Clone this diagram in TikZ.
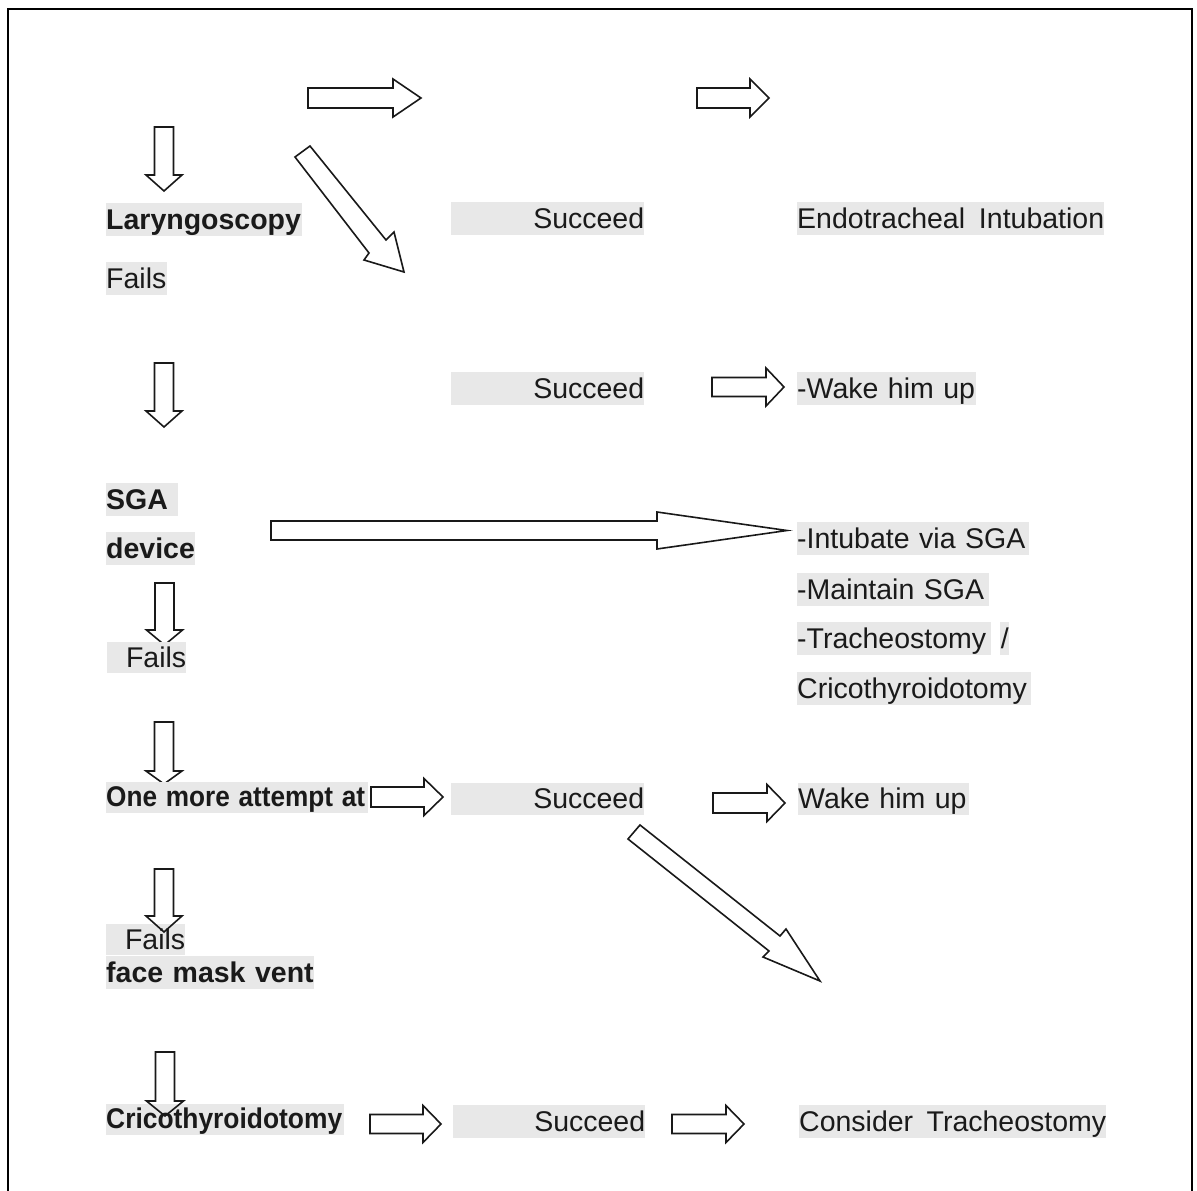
\documentclass[tikz,border=0pt]{standalone}
\usepackage{fontspec}
\setmainfont{Liberation Sans}
\definecolor{boxgray}{HTML}{E8E8E8}
\definecolor{txt}{HTML}{1A1A1A}
\newcommand\fszA{\fontsize{28.5}{34}\selectfont}
% horizontal block arrow: x0 (tail), x1 (head base), x2 (tip), yc, shaft half, head half
\newcommand\harrow[7][]{\draw[blk,#1] (#2,#5-#6) -- (#3,#5-#6) -- (#3,#5-#7) -- (#4,#5) -- (#3,#5+#7) -- (#3,#5+#6) -- (#2,#5+#6) -- cycle;}
% vertical block arrow: xc, y0 (tail), y1 (head base), y2 (tip), shaft half, head half
\newcommand\varrow[7][]{\draw[blk,#1] (#2-#6,#3) -- (#2-#6,#4) -- (#2-#7,#4) -- (#2,#5) -- (#2+#7,#4) -- (#2+#6,#4) -- (#2+#6,#3) -- cycle;}
\begin{document}
\begin{tikzpicture}[x=1pt,y=-1pt,
  lbl/.style={fill=boxgray, inner sep=0pt, anchor=north west, text height=26pt, text depth=7pt, text=txt, font=\fszA, align=left},
  lblb/.style={lbl, font=\fszA\bfseries},
  lbls/.style={lblb, text height=24.5pt, text depth=6pt},
  blk/.style={draw=black!90, line width=1.6pt, fill=white, line join=miter},
  frame/.style={draw=black, line width=2.6pt}]
\useasboundingbox (0,0) rectangle (1197,1191);
\fill[white] (0,0) rectangle (1197,1191);
% frame
\coordinate (fbl) at (8,1200);
\coordinate (ftl) at (8,9);
\coordinate (ftr) at (1192,9);
\coordinate (fbr) at (1192,1200);
\draw[frame] (fbl) -- (ftl) -- (ftr) -- (fbr);

% arrows whose heads go under labels
\varrow{164.5}{583}{630}{645}{9.5}{18}
\varrow{164}{722}{771}{784}{9.5}{18}

% labels
\node[lblb, text width=196pt] (lar) at (106,203) {Laryngoscopy};
\node[lbl, text width=61pt] (fails1) at (106,262) {Fails};
\node[lbl, text width=193pt, align=right] (suc1) at (451,202) {Succeed};
\node[lbl, text width=307pt] (endo) at (797,202) {Endotracheal\hskip 0pt plus 1filll Intubation};
\node[lbl, text width=193pt, align=right] (suc2) at (451,372) {Succeed};
\node[lbl, text width=179pt] (wake1) at (797,372) {-Wake him up};
\node[lblb, text width=72pt] (sga) at (106,483) {SGA};
\node[lblb, text width=89pt] (dev) at (106,532) {device};
\node[lbl, text width=232pt] (intub) at (797,522) {-Intubate via SGA};
\node[lbl, text width=192pt] (maint) at (797,573) {-Maintain SGA};
\node[lbl, text width=194pt] (trach) at (797,622) {-Tracheostomy};
\node[lbl, text width=9pt, align=center] (slash) at (1000,622) {/};
\node[lbl, text width=234pt] (crico2) at (797,672) {Cricothyroidotomy};
\node[lbl, text width=79pt, align=right, text height=25pt, text depth=6pt] (fails2) at (107,642) {Fails};
\node[lbls, text width=262pt] (one) at (106,782) {\resizebox{259pt}{\height}{One more attempt at}};
\node[lbl, text width=193pt, align=right, text height=25pt] (suc3) at (451,783) {Succeed};
\node[lbl, text width=171pt, text height=25pt] (wake2) at (798,783) {Wake him up};
\node[lbl, text width=79pt, align=right, text height=25pt, text depth=6pt] (fails3) at (106,924) {Fails};
\node[lblb, text width=208pt] (face) at (106,956) {face mask vent};
\node[lbls, text width=238pt] (crico1) at (106,1104) {\resizebox{236pt}{\height}{Cricothyroidotomy}};
\node[lbl, text width=192pt, align=right] (suc4) at (453,1105) {Succeed};
\node[lbl, text width=307pt] (cons) at (799,1105) {Consider\hskip 0pt plus 1filll Tracheostomy};

% horizontal arrows
\harrow{308}{393}{421}{98}{10}{19}
\harrow{697}{750}{769}{98}{10}{19}
\harrow{712}{766}{784}{387}{9.5}{19}
\harrow{271}{657}{787}{530.5}{9.5}{18.5}
\harrow{371}{424}{443}{797}{10}{18.5}
\harrow{713}{767}{785}{803}{10}{18.5}
\harrow{370}{423}{441}{1124}{9.5}{18.5}
\harrow{672}{726}{744}{1124}{9.5}{18.5}

% vertical arrows
\varrow{164}{127}{175}{191}{9.5}{18}
\varrow{164}{363}{411}{427}{9.5}{18}
\varrow[fill=none]{164}{869}{916}{932}{9.5}{18}
\varrow[fill=none]{165}{1052}{1101}{1116}{9.5}{18.5}

% diagonal arrows
\draw[blk] (310,146) -- (386,240) -- (394,232) -- (404,272) -- (364,260) -- (369,253) -- (295,157) -- cycle;
\draw[blk] (640,825) -- (780,936) -- (786,929) -- (820,981) -- (763,957) -- (769,951) -- (628,839) -- cycle;
\end{tikzpicture}
\end{document}
